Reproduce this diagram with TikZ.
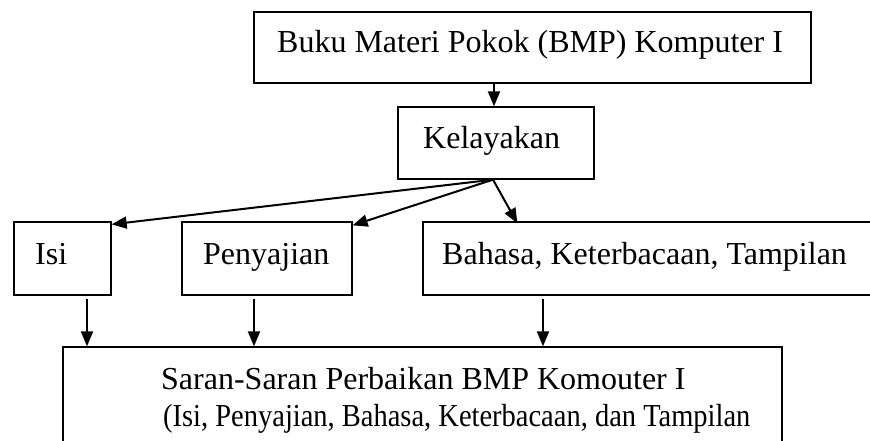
\documentclass[tikz,border=0pt]{standalone}
\usepackage{fontspec}
\setmainfont{Liberation Serif}
\usetikzlibrary{arrows.meta,calc}
\tikzset{
  boxnode/.style={draw=black, line width=1.3pt, minimum width=#1, inner sep=0pt},
  txt/.style={anchor=base west, inner sep=0pt, font=\fontsize{32}{38}\selectfont},
  conn/.style={line width=2pt, -{Triangle[length=15pt,width=12pt]}},
}
\begin{document}
\begin{tikzpicture}[x=1pt,y=-1pt]
\useasboundingbox (0,0) rectangle (870,441);
\clip (0,0) rectangle (870,441);
\fill[white] (0,0) rectangle (870,441);
% boxes
\node[boxnode=557pt, minimum height=71pt] (top) at (532.5,47.5) {};
\node[boxnode=196pt, minimum height=72pt] (kel) at (496,143) {};
\node[boxnode=97pt, minimum height=73pt] (isi) at (62.5,258.5) {};
\node[boxnode=170pt, minimum height=73pt] (pen) at (267,258.5) {};
\node[boxnode=477pt, minimum height=73pt] (bah) at (661.5,258.5) {};
\node[boxnode=719pt, minimum height=130pt] (sar) at (422.5,412) {};
% texts
\node[txt] (ttop) at (277,53) {Buku Materi Pokok (BMP) Komputer I};
\node[txt] (tkel) at (423,149) {Kelayakan};
\node[txt] (tisi) at (35,264) {Isi};
\node[txt] (tpen) at (203,264) {Penyajian};
\node[txt] (tbah) at (442,264) {Bahasa, Keterbacaan, Tampilan};
\node[txt] (tsar1) at (161,389) {Saran-Saran Perbaikan BMP Komouter I};
\node[txt] (tsar2) at (163,426) {\scalebox{0.89}[1]{(Isi, Penyajian, Bahasa, Keterbacaan, dan Tampilan}};
% connectors
\draw[conn] (top.south -| 494,0) -- (kel.north -| 494,0);
\draw[conn] ($(kel.south)+(-3,0)$) -- ($(isi.north east)+(0,3)$);
\draw[conn] ($(kel.south)+(-3,0)$) -- ($(pen.north east)+(0,4)$);
\draw[conn] ($(kel.south)+(-3,0)$) -- ($(bah.north west)+(95,2)$);
\draw[conn] ($(isi.south -| 87,0)+(0,3)$) -- (sar.north -| 87,0);
\draw[conn] ($(pen.south -| 254,0)+(0,3)$) -- (sar.north -| 254,0);
\draw[conn] ($(bah.south -| 543,0)+(0,3)$) -- (sar.north -| 543,0);
\end{tikzpicture}
\end{document}
